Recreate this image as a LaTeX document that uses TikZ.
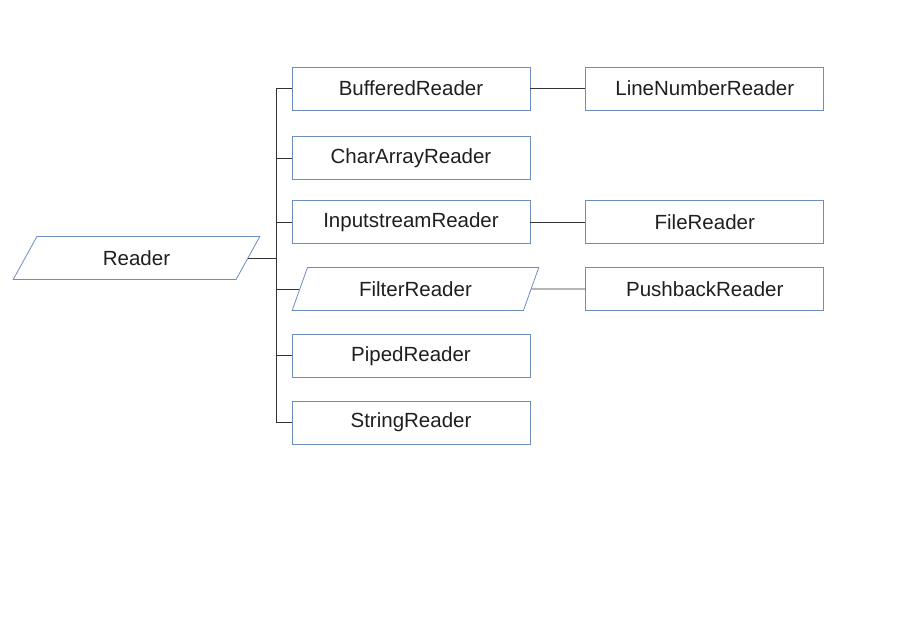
\documentclass[tikz,border=0pt]{standalone}
\usepackage{fontspec}
\setmainfont{Liberation Sans}
\usetikzlibrary{positioning,shapes.geometric,calc}
\definecolor{edgeblue}{HTML}{6C8EBF}
\definecolor{linegray}{HTML}{333333}

\begin{document}
\begin{tikzpicture}[x=1pt,y=1pt,font=\fontsize{20.5}{24}\selectfont,text=black!88,
  cls/.style={rectangle,draw=edgeblue,line width=0.8pt,minimum width=238pt,minimum height=43pt,inner sep=0pt},
  abst/.style={trapezium,trapezium left angle=62,trapezium right angle=118,trapezium stretches=true,
    draw=edgeblue,line width=0.8pt,minimum width=247pt,minimum height=43pt,inner sep=0pt},
  ln/.style={draw=linegray,line width=0.8pt}]
\useasboundingbox (0,0) rectangle (900,-636);
% base class
\node[abst](reader) at (136.5,-258){Reader};
% direct subclasses
\node[cls](buffered) at (411,-88.5){BufferedReader};
\node[cls,below=26pt of buffered](chararray){CharArrayReader};
\node[cls,below=20pt of chararray](input){InputstreamReader};
\node[abst,below=23pt of input,xshift=4.5pt](filter){FilterReader};
\node[cls,below=23pt of filter,xshift=-4.5pt](piped){PipedReader};
\node[cls,below=23pt of piped](string){StringReader};
% second level
\node[cls,right=55pt of buffered](linenum){LineNumberReader};
\node[cls,right=55pt of input](file){FileReader};
\node[cls,below=23pt of file](pushback){PushbackReader};
% tree lines
\coordinate[right=27.5pt of reader.east](trunk);
\draw[ln](reader.east)--(trunk);
\foreach \n in {buffered,chararray,input,filter,piped,string}
  \draw[ln](trunk)|-(\n.west);
\draw[ln](buffered)--(linenum);
\draw[ln](input)--(file);
\draw[ln](filter)--(pushback);
\end{tikzpicture}
\end{document}
